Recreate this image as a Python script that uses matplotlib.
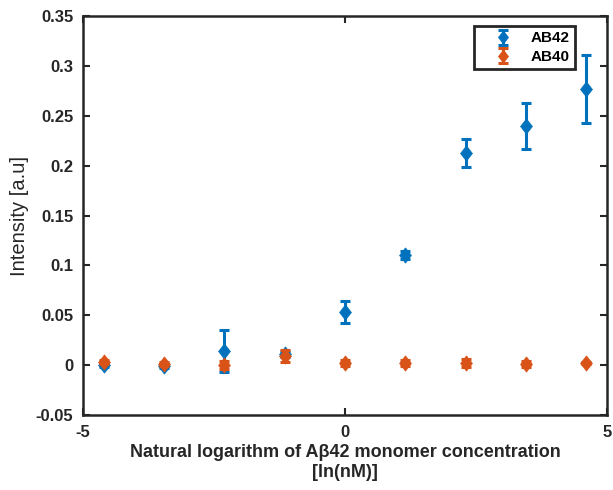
import matplotlib
matplotlib.use("Agg")
import matplotlib.pyplot as plt
from matplotlib.ticker import FuncFormatter
from matplotlib.legend_handler import HandlerTuple

plt.rcParams['font.family'] = ['Liberation Sans', 'DejaVu Sans']
plt.rcParams['axes.unicode_minus'] = False

x = [-4.605, -3.454, -2.303, -1.151, 0.0, 1.151, 2.303, 3.454, 4.605]
ab42 = [0.000, -0.001, 0.014, 0.011, 0.053, 0.110, 0.2125, 0.240, 0.277]
ab42_err = [0.002, 0.002, 0.021, 0.003, 0.011, 0.004, 0.014, 0.023, 0.034]
ab40 = [0.003, 0.001, 0.000, 0.009, 0.002, 0.002, 0.002, 0.001, 0.002]
ab40_err = [0.002, 0.002, 0.004, 0.006, 0.003, 0.003, 0.004, 0.003, 0.001]
series_names = ['AB42', 'AB40']
yticks = [-0.05, 0, 0.05, 0.1, 0.15, 0.2, 0.25, 0.3, 0.35]
xticks = [-5, 0, 5]

blue = '#0072BD'
orange = '#D95319'
diamond = [(0, 1), (0.78, 0), (0, -1), (-0.78, 0), (0, 1)]

fig = plt.figure(figsize=(6.13, 4.9), dpi=100)
ax = fig.add_axes([0.1354, 0.153, 0.855, 0.814])

handles = []
for ys, es, c, name in [(ab42, ab42_err, blue, series_names[0]),
                        (ab40, ab40_err, orange, series_names[1])]:
    eb = ax.errorbar(x, ys, yerr=es, fmt='none', ecolor=c, elinewidth=2.2,
                     capsize=3.5, capthick=2.2)
    mk, = ax.plot(x, ys, linestyle='none', marker=diamond, ms=11, mfc=c,
                  mec=c, mew=0.5)
    handles.append((eb, mk))

ax.set_xlim(-5, 5)
ax.set_ylim(-0.05, 0.35)
ax.set_xticks(xticks)
ax.set_yticks(yticks)
ax.yaxis.set_major_formatter(FuncFormatter(lambda v, p: f"{v:g}"))
ax.tick_params(direction='in', length=5, width=1.5, top=True, right=True,
               labelsize=12, colors='#262626', pad=7)
for lab in ax.get_xticklabels() + ax.get_yticklabels():
    lab.set_fontweight('bold')
for s in ax.spines.values():
    s.set_linewidth(1.8)
    s.set_color('#262626')

ax.set_xlabel('Natural logarithm of Aβ42 monomer concentration\n[ln(nM)]',
              fontsize=13, fontweight='bold', color='#262626', labelpad=3,
              linespacing=1.2)
ax.set_ylabel('Intensity [a.u]', fontsize=14.5, color='#262626', labelpad=5)

leg = ax.legend(handles=handles, labels=series_names, loc='upper right',
                bbox_to_anchor=(0.939, 0.975),
                handler_map={tuple: HandlerTuple(ndivide=1)},
                borderaxespad=0, fancybox=False, framealpha=1, edgecolor='#262626',
                prop={'weight': 'bold', 'size': 11}, handlelength=3.2,
                handletextpad=0.2, borderpad=0.35, labelspacing=0.3,
                markerscale=0.85)
leg.get_frame().set_linewidth(2)

fig.savefig('out.png', dpi=100)
